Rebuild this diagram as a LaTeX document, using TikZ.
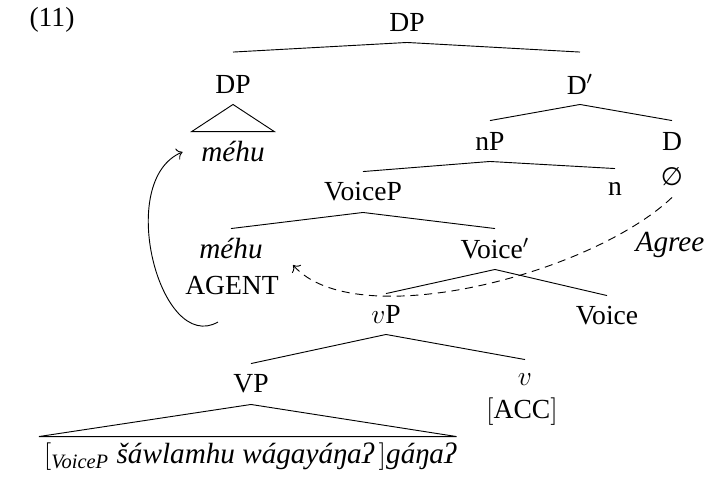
\documentclass[tikz,border=0pt]{standalone}
\usepackage{amsmath,amssymb}
\usepackage{fontspec}
\setmainfont{Liberation Serif}
\newfontfamily\symbfont{DejaVu Sans}
\usepackage{tikz}
\usetikzlibrary{arrows.meta,positioning}

\tikzset{
	lbl/.style={font=\fontsize{12}{14}\selectfont,minimum height=17.4pt,inner xsep=1pt,inner ysep=0pt},
	itlbl/.style={lbl,font=\fontsize{12.7}{15}\selectfont\itshape}
}

\begin{document}
\begin{tikzpicture}[x=0.435pt,y=-0.435pt]
	\useasboundingbox (0,0) rectangle (705,476);
	\node[lbl] (exnum) at (52,20) {(11)};
	% tree labels
	\begin{scope}[every node/.style={lbl}]
		\node (dp) at (407,22) {DP};
		\node (dpspec) at (233,84) {DP};
		\node[itlbl,inner xsep=4pt] (mehuA) at (233,152) {méhu};
		\node (dbar) at (580,84) {D$'$};
		\node (np) at (490,141) {nP};
		\node (d) at (672,141) {D};
		\node (null) at (672,177) {{\symbfont\fontsize{11}{13}\selectfont ∅}};
		\node (voicep) at (363,192) {VoiceP};
		\node (n) at (615,189) {n};
		\node[itlbl] (mehuB) at (231,249) {méhu};
		\node (agent) at (232,285) {AGENT};
		\node (voicebar) at (495,249) {Voice$'$};
		\node (vp) at (386,314) {$v$P};
		\node (voice) at (607,316) {Voice};
		\node (VP) at (251,384) {VP};
		\node (v) at (525,380) {$v$};
		\node (acc) at (522,412) {$[$ACC$]$};
		\node[itlbl,inner xsep=0pt] (lex) at (250,457) {$[_{\textit{VoiceP}}$ šáwlamhu wágayáŋaʔ\,$]$gáŋaʔ};
		\node[itlbl] (agreelbl) at (670,245) {Agree};
	\end{scope}
	% branches
	\draw (dp.south) -- ([yshift=5pt]dpspec.north);
	\draw (dp.south) -- ([yshift=5pt]dbar.north);
	\draw (dpspec.south) -- (mehuA.north west) -- (mehuA.north east) -- cycle;
	\draw (dbar.south) -- (np.north);
	\draw (dbar.south) -- (d.north);
	\draw (np.south) -- (voicep.north);
	\draw (np.south) -- (n.north);
	\draw (voicep.south) -- (mehuB.north);
	\draw (voicep.south) -- (voicebar.north);
	\draw (voicebar.south) -- (vp.north);
	\draw (voicebar.south) -- (voice.north);
	\draw (vp.south) -- (VP.north);
	\draw (vp.south) -- (v.north);
	\draw (VP.south) -- ([xshift=-2pt]lex.north west) -- (lex.north east) -- cycle;
	% movement and agree
	\coordinate (trace) at (218,322);
	\coordinate (goal) at (293,265);
	\draw[->] (trace) .. controls +(-58,33) and +(-68,28) .. ([xshift=-4pt]mehuA.west);
	\draw[->,dash pattern=on 3.5pt off 2.5pt] (null.south) .. controls (590,275) and (355,335) .. (goal);
\end{tikzpicture}
\end{document}
